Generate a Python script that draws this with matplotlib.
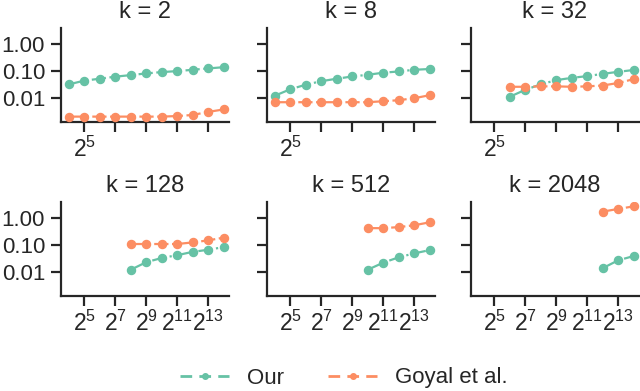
import matplotlib
matplotlib.use("Agg")
import matplotlib.pyplot as plt
from matplotlib.lines import Line2D
import numpy as np

plt.rcParams['font.family'] = ['Liberation Sans', 'DejaVu Sans']
plt.rcParams['mathtext.fontset'] = 'custom'
plt.rcParams['mathtext.rm'] = 'Liberation Sans'
plt.rcParams['mathtext.it'] = 'Liberation Sans'
plt.rcParams['text.color'] = '#262626'
plt.rcParams['xtick.color'] = '#262626'
plt.rcParams['ytick.color'] = '#262626'
plt.rcParams['axes.edgecolor'] = '#262626'

ks = [2, 8, 32, 128, 512, 2048]
# x values given as exponents of 2
start_exp = {2: 4, 8: 4, 32: 6, 128: 8, 512: 10, 2048: 12}
end_exp = 14

our = {
    2: [0.032, 0.044, 0.052, 0.062, 0.071, 0.082, 0.092, 0.100, 0.112, 0.126, 0.140],
    8: [0.012, 0.021, 0.031, 0.042, 0.052, 0.063, 0.073, 0.087, 0.097, 0.112, 0.120],
    32: [0.011, 0.020, 0.032, 0.046, 0.056, 0.065, 0.079, 0.094, 0.110],
    128: [0.012, 0.023, 0.033, 0.042, 0.056, 0.067, 0.084],
    512: [0.012, 0.022, 0.035, 0.049, 0.065],
    2048: [0.0137, 0.027, 0.039],
}
goyal = {
    2: [0.0020, 0.0020, 0.0020, 0.0020, 0.0020, 0.0020, 0.0020, 0.0021, 0.0023, 0.0030, 0.0037],
    8: [0.0069, 0.0069, 0.0069, 0.0069, 0.0069, 0.0069, 0.0069, 0.0075, 0.0082, 0.0097, 0.0126],
    32: [0.026, 0.026, 0.027, 0.027, 0.026, 0.027, 0.029, 0.036, 0.050],
    128: [0.11, 0.11, 0.11, 0.11, 0.126, 0.15, 0.19],
    512: [0.43, 0.43, 0.47, 0.55, 0.71],
    2048: [1.78, 2.24, 2.8],
}

series_labels = ['Our', 'Goyal et al.']
xtick_exps = [5, 7, 9, 11, 13]
ytick_vals = [0.01, 0.1, 1.0]
ytick_labels = ['0.01', '0.10', '1.00']

green = '#66c2a5'
orange = '#fc8d62'

fig = plt.figure(figsize=(6.4, 3.91), dpi=100)
W, H = 640, 391
lefts = [61, 267, 471]
bottoms_px = [122, 296]
aw, ah = 168, 94

for i, k in enumerate(ks):
    r, c = divmod(i, 3)
    ax = fig.add_axes([lefts[c] / W, 1 - bottoms_px[r] / H, aw / W, ah / H])
    xs = 2.0 ** np.arange(start_exp[k], end_exp + 1)
    ax.plot(xs, our[k], color=green, ls='-.', lw=1.6, marker='o', ms=5.8, zorder=3)
    ax.plot(xs, goyal[k], color=orange, ls='-.', lw=1.6, marker='o', ms=5.8, zorder=3)
    ax.set_xscale('log', base=2)
    ax.set_yscale('log')
    ax.set_xlim(2 ** 3.5, 2 ** 14.35)
    ax.set_ylim(10 ** -2.9, 10 ** 0.61)
    ax.set_xticks([2.0 ** e for e in xtick_exps])
    if r == 1:
        ax.set_xticklabels([r'$\mathdefault{2^{%d}}$' % e for e in xtick_exps])
    else:
        ax.set_xticklabels([r'$\mathdefault{2^{5}}$', '', '', '', ''])
    ax.set_yticks(ytick_vals)
    if c == 0:
        ax.set_yticklabels(ytick_labels)
    else:
        ax.set_yticklabels([])
    ax.minorticks_off()
    ax.tick_params(axis='both', which='major', length=7.5, width=1.6)
    ax.tick_params(axis='y', labelsize=16, pad=4)
    ax.tick_params(axis='x', labelsize=16.5, pad=3)
    for s in ['top', 'right']:
        ax.spines[s].set_visible(False)
    for s in ['left', 'bottom']:
        ax.spines[s].set_linewidth(1.6)
    ax.set_title(f'k = {k}', fontsize=17, pad=7)

handles = [Line2D([], [], color=col, lw=2, ls=(0, (4.2, 2.6)), marker='o', ms=4)
           for col in (green, orange)]
fig.legend(handles, series_labels, loc='center', bbox_to_anchor=(344 / W, 1 - 378 / H), ncol=2,
           frameon=False, fontsize=16, columnspacing=2.0, handlelength=2.2,
           handletextpad=0.8)

fig.savefig('out.png', dpi=100)
